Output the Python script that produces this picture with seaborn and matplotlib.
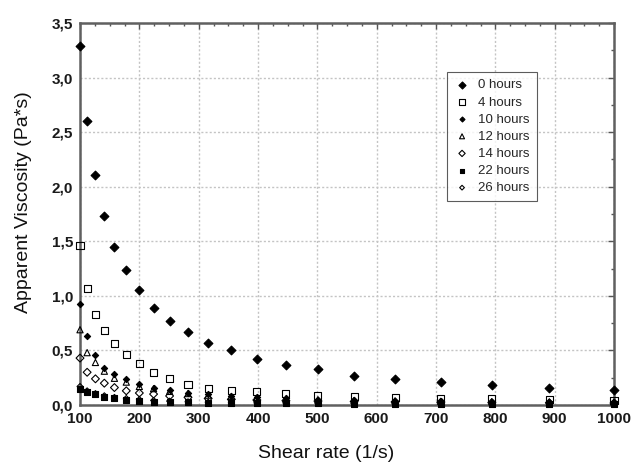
import matplotlib
matplotlib.use("Agg")
import matplotlib.pyplot as plt
import seaborn as sns
from matplotlib.ticker import MultipleLocator

# ---- data ----
shear = [100, 112, 126, 141, 158, 178, 200, 224, 251, 282, 316, 355, 398,
         447, 501, 562, 631, 708, 794, 891, 1000]
h0 = [3.29, 2.60, 2.11, 1.73, 1.45, 1.24, 1.05, 0.89, 0.77, 0.67, 0.57, 0.50,
      0.42, 0.37, 0.33, 0.27, 0.24, 0.21, 0.18, 0.16, 0.14]
h4 = [1.46, 1.07, 0.83, 0.68, 0.56, 0.46, 0.38, 0.30, 0.24, 0.19, 0.15, 0.13,
      0.12, 0.107, 0.085, 0.078, 0.07, 0.06, 0.06, 0.048, 0.04]
h10 = [0.93, 0.63, 0.46, 0.34, 0.28, 0.24, 0.19, 0.16, 0.135, 0.11, 0.10, 0.087,
       0.073, 0.06, 0.05, 0.045, 0.04, 0.035, 0.03, 0.028, 0.025]
h12 = [0.69, 0.48, 0.39, 0.31, 0.245, 0.21, 0.17, 0.15, 0.125, 0.105, 0.09, 0.078,
       0.064, 0.055, 0.048, 0.042, 0.037, 0.033, 0.03, 0.027, 0.025]
h14 = [0.43, 0.30, 0.24, 0.20, 0.16, 0.13, 0.11, 0.10, 0.083, 0.07, 0.06, 0.052,
       0.046, 0.04, 0.036, 0.032, 0.028, 0.025, 0.022, 0.02, 0.018]
h22 = [0.15, 0.12, 0.10, 0.076, 0.061, 0.046, 0.037, 0.03, 0.027, 0.024, 0.021,
       0.019, 0.017, 0.015, 0.014, 0.013, 0.012, 0.011, 0.01, 0.01, 0.009]
h26 = [0.17, 0.13, 0.105, 0.085, 0.07, 0.06, 0.05, 0.042, 0.036, 0.03, 0.026,
       0.023, 0.02, 0.018, 0.016, 0.014, 0.013, 0.012, 0.011, 0.01, 0.009]
labels = ["0 hours", "4 hours", "10 hours", "12 hours", "14 hours", "22 hours", "26 hours"]

xticks = [100, 200, 300, 400, 500, 600, 700, 800, 900, 1000]
xtick_labels = ["100", "200", "300", "400", "500", "600", "700", "800", "900", "1000"]
yticks = [0.0, 0.5, 1.0, 1.5, 2.0, 2.5, 3.0, 3.5]
ytick_labels = ["0,0", "0,5", "1,0", "1,5", "2,0", "2,5", "3,0", "3,5"]

# ---- styling ----
sns.set_theme(style="white")
plt.rcParams['font.family'] = ['Liberation Sans', 'DejaVu Sans']

fig = plt.figure(figsize=(6.33, 4.65), dpi=100)
ax = fig.add_axes([0.1264, 0.129, 0.8436, 0.8215])

styles = [
    (h0, "D", "black", 20),
    (h4, "s", "none", 26),
    (h10, "D", "black", 10),
    (h12, "^", "none", 20),
    (h14, "D", "none", 16),
    (h22, "s", "black", 18),
    (h26, "D", "none", 9),
]

for lab, (vals, mk, fc, size) in zip(labels, styles):
    sns.scatterplot(x=shear, y=vals, marker=mk, s=size, color="black",
                    facecolor=fc, edgecolor="black", linewidth=0.8,
                    label=lab, ax=ax, clip_on=False, zorder=3)

ax.set_xlim(100, 1000)
ax.set_ylim(0, 3.5)
ax.set_xticks(xticks)
ax.set_xticklabels(xtick_labels)
ax.set_yticks(yticks)
ax.set_yticklabels(ytick_labels)
ax.xaxis.set_minor_locator(MultipleLocator(25))
ax.yaxis.set_minor_locator(MultipleLocator(0.25))

ax.tick_params(which="both", direction="in", top=True, right=True,
               color="#555555", width=1)
ax.tick_params(which="major", length=4, labelsize=11, pad=5, labelcolor="#1a1a1a")
ax.tick_params(which="minor", length=2.5)
for t in ax.get_xticklabels() + ax.get_yticklabels():
    t.set_fontweight("bold")

ax.grid(True, which="major", linestyle=(0, (1.5, 1.5)), color="#c4c4c4", linewidth=1)
ax.set_axisbelow(True)
for sp in ax.spines.values():
    sp.set_color("#606060")
    sp.set_linewidth(1.8)

ax.set_xlabel("Shear rate (1/s)", fontsize=14, color="#111111")
ax.set_ylabel("Apparent Viscosity (Pa*s)", fontsize=14, color="#111111")
ax.xaxis.set_label_coords(0.46, -0.105)
ax.yaxis.set_label_coords(-0.09, 0.53)

leg = ax.legend(loc="upper left", bbox_to_anchor=(0.687, 0.872), frameon=True,
                fancybox=False, fontsize=9.5, labelspacing=0.37, handletextpad=0.6,
                handlelength=1.2, borderpad=0.55, scatterpoints=1, borderaxespad=0,
                markerscale=0.8)
leg.get_frame().set_edgecolor("#333333")
leg.get_frame().set_linewidth(0.8)

fig.savefig("out.png", dpi=100)
